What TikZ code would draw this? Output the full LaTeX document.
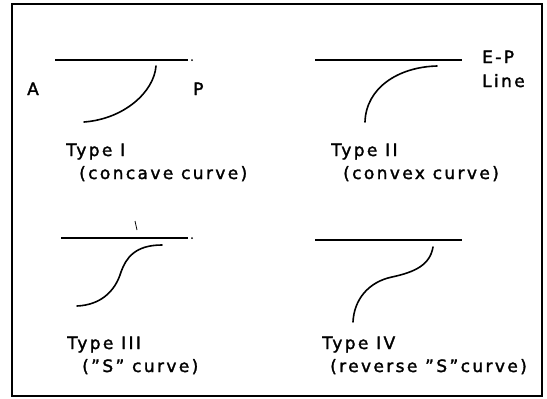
\documentclass[tikz,border=0pt]{standalone}
\usepackage{fontspec}
\setmainfont{DejaVu Sans}[LetterSpace=14,FakeBold=1.8]
\begin{document}
\begin{tikzpicture}[x=1pt,y=-1pt,
  lbl/.style={anchor=base west,inner sep=0pt,font=\fontsize{17}{20}\selectfont},
  epline/.style={line width=2pt},
  crv/.style={line width=1.6pt,line cap=round}]
\useasboundingbox (0,0) rectangle (547,399);
\draw[line width=1.2pt] (12,4) rectangle (542,396);
% Type I
\coordinate (l1a) at (55,60); \coordinate (l1b) at (188,60);
\draw[epline] (l1a) -- (l1b);
\fill (192,60) circle (1pt);
\coordinate (c1a) at (156,66); \coordinate (c1b) at (84,122);
\draw[crv] (c1a) .. controls (154,92) and (124,119) .. (c1b);
\node[lbl] (A) at (27,95) {A};
\node[lbl] (P) at (193,95) {P};
\node[lbl] (t1) at (66,156) {Type I};
\node[lbl] (s1) at (79,179) {(concave curve)};
% Type II
\coordinate (l2a) at (315,60); \coordinate (l2b) at (462,60);
\draw[epline] (l2a) -- (l2b);
\coordinate (c2a) at (437,66); \coordinate (c2b) at (365,122);
\draw[crv] (c2a) .. controls (398,67) and (366,88) .. (c2b);
\node[lbl] (ep) at (482,63) {E-P};
\node[lbl] (ln) at (482,87) {Line};
\node[lbl] (t2) at (331,156) {Type II};
\node[lbl] (s2) at (343,179) {(convex curve)};
% Type III
\coordinate (l3a) at (61,238); \coordinate (l3b) at (188,238);
\draw[epline] (l3a) -- (l3b);
\fill (192,238) circle (1pt);
\coordinate (tka) at (135,221); \coordinate (tkb) at (137,230);
\draw[line width=0.8pt] (tka) -- (tkb);
\coordinate (c3a) at (162,245); \coordinate (c3m) at (121,272); \coordinate (c3b) at (77,306);
\draw[crv] (c3a) .. controls (135,245) and (126,258) .. (c3m)
  .. controls (115,292) and (100,305) .. (c3b);
\node[lbl] (t3) at (67,349) {Type III};
\node[lbl] (s3) at (82,372) {(”S” curve)};
% Type IV
\coordinate (l4a) at (315,240); \coordinate (l4b) at (462,240);
\draw[epline] (l4a) -- (l4b);
\coordinate (c4a) at (433,247); \coordinate (c4m) at (392,277); \coordinate (c4b) at (353,322);
\draw[crv] (c4a) .. controls (430,265) and (415,272) .. (c4m)
  .. controls (368,282) and (354,300) .. (c4b);
\node[lbl] (t4) at (322,349) {Type IV};
\node[lbl] (s4) at (330,372) {(reverse ”S”curve)};
\end{tikzpicture}
\end{document}
